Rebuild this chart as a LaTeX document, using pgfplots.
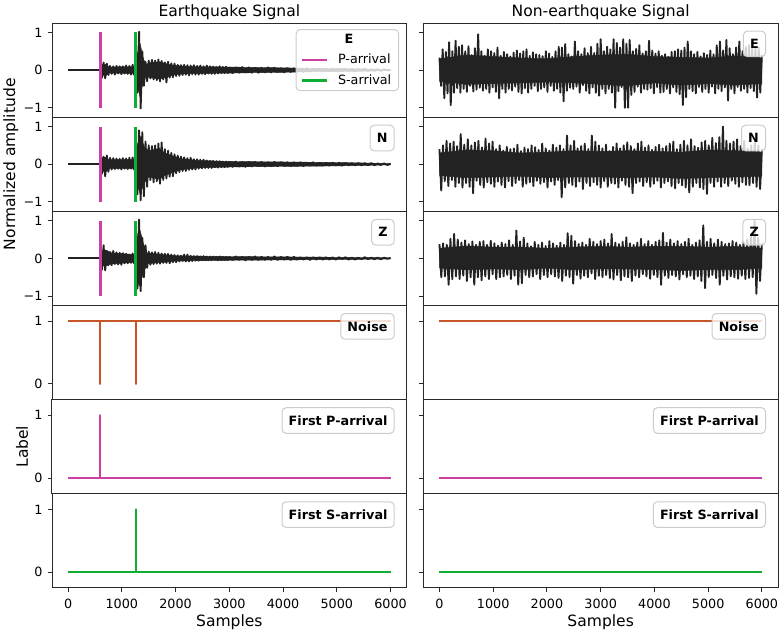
\documentclass[border=0pt]{standalone}
\usepackage{fontspec}
\setmainfont{DejaVu Sans}
\usepackage{pgfplots}
\usepackage{pgfplotstable}
\pgfplotsset{compat=1.18}
\definecolor{sigc}{HTML}{222222}
\definecolor{pc}{HTML}{CE3FA6}
\definecolor{sc}{HTML}{10AE33}
\definecolor{nc}{HTML}{C8552A}
\definecolor{axc}{HTML}{2A2A2A}
\newcommand{\tickf}{\fontsize{9.6}{11.5}\selectfont}
\newcommand{\labf}{\fontsize{11.7}{14}\selectfont}
\pgfplotsset{
  panel/.style={scale only axis,width=266bp,height=70.6bp,xmin=-300,xmax=6300,anchor=north west,
    axis line style={draw=axc,line width=.75bp},
    major tick style={draw=axc,line width=.7bp},major tick length=3.3bp,
    tick align=outside,xtick pos=bottom,ytick pos=left,
    xtick={0,1000,2000,3000,4000,5000,6000},xticklabels={},
    xtick style={draw=none},
    tick label style={font=\tickf},
    yticklabel style={inner xsep=3.6bp},
    xticklabel style={inner ysep=4.5bp},
    every axis title/.style={at={(axis description cs:.5,1)},anchor=center,yshift=8bp,font=\labf},
    every axis x label/.style={at={(axis description cs:.5,0)},anchor=center,yshift=-26bp,font=\labf},
  },
  wave/.style={panel,ymin=-1.25,ymax=1.25,ytick={-1,0,1},yticklabels={−1,0,1}},
  lab/.style={panel,ymin=-.25,ymax=1.25,ytick={0,1},yticklabels={0,1}},
  norow/.style={yticklabels={}},
  bottom/.style={xticklabels={0,1000,2000,3000,4000,5000,6000},xtick style={draw=axc,line width=.7bp},xlabel={Samples}},
  sigl/.style={sigc,line width=1.4bp,line join=round,no markers,forget plot},
  core/.style={fill=sigc,draw=sigc,line width=.3bp,no markers,forget plot},
  arr/.style={line width=2.1bp,no markers},
  tag/.style={line width=1.7bp,line join=round,no markers},
}
\tikzset{box/.style={anchor=north east,at={(rel axis cs:1,1)},xshift=-9bp,yshift=-5.7bp,rounded corners=3bp,
  draw=black!20,line width=.75bp,fill=white,fill opacity=.8,text opacity=1,
  font=\tickf\bfseries,minimum height=19.2bp,inner xsep=5bp,inner ysep=0pt}}
% Left column, from the P onset at 600: step 30 to 3000, then step 60
\pgfplotstableread[header=false]{
.05
-.2
.2
-.22
.17
-.13
.11
-.1
.1
-.12
.11
-.09
.1
-.11
.1
-.09
.12
-.1
.11
-.12
.14
-.13
.35
-.6
1.02
-1.02
.5
-.42
.22
-.3
.25
-.22
.27
-.25
.25
-.27
.28
-.3
.24
-.25
.2
-.33
.22
-.2
.18
-.19
.17
-.16
.14
-.15
.13
-.13
.14
-.12
.13
-.14
.12
-.11
.13
-.12
.11
-.12
.12
-.1
.1
-.11
.12
-.09
.1
-.1
.09
-.1
.08
-.09
.1
-.08
.08
-.08
.09
-.08
.08
}\leA
\pgfplotstableread[header=false]{
.08
-.08
.07
-.07
.08
-.06
.07
-.07
.06
-.07
.06
-.06
.07
-.06
.06
-.05
.05
-.06
.05
-.05
.05
-.04
.04
-.05
.05
-.04
.03
-.03
.04
-.03
.03
-.03
.04
-.03
.03
-.03
.03
-.02
.03
-.03
.02
-.02
.03
-.02
.02
-.02
.02
-.02
.02
-.01
.01
}\leB
\pgfplotstableread[header=false]{
.05
-.25
.2
-.32
.23
-.2
.17
-.14
.16
-.13
.15
-.12
.14
-.14
.16
-.12
.15
-.13
.17
-.12
.18
-.15
.45
-.8
.9
-.96
.85
-.85
.6
-.6
.5
-.42
.48
-.48
.5
-.45
.55
-.52
.58
-.42
.4
-.38
.36
-.33
.3
-.32
.26
-.24
.23
-.21
.2
-.18
.18
-.18
.16
-.15
.17
-.14
.13
-.14
.13
-.12
.12
-.11
.12
-.1
.1
-.1
.09
-.1
.09
-.08
.08
-.09
.08
-.08
.07
-.08
.07
-.07
.07
}\lnA
\pgfplotstableread[header=false]{
.07
-.07
.07
-.06
.06
-.07
.06
-.06
.06
-.05
.06
-.06
.05
-.05
.06
-.05
.05
-.05
.05
-.05
.05
-.04
.05
-.05
.04
-.04
.05
-.04
.04
-.04
.04
-.04
.04
-.03
.04
-.04
.03
-.03
.03
-.03
.03
-.03
.03
-.02
.03
-.03
.02
-.02
.02
-.02
.01
}\lnB
\pgfplotstableread[header=false]{
.05
-.3
.35
-.32
.2
-.18
.17
-.18
.2
-.15
.16
-.16
.15
-.17
.14
-.13
.12
-.13
.1
-.12
.13
-.14
.4
-.8
1.03
-.87
.55
-.5
.35
-.25
.18
-.17
.16
-.15
.17
-.14
.15
-.14
.13
-.12
.12
-.12
.12
-.13
.1
-.1
.09
-.1
.08
-.08
.07
-.07
.1
-.08
.1
-.08
.07
-.07
.06
-.06
.06
-.06
.05
-.05
.06
-.05
.05
-.05
.05
-.05
.05
-.04
.04
-.05
.05
-.04
.04
-.04
.04
-.04
.05
}\lzA
\pgfplotstableread[header=false]{
.04
-.04
.05
-.04
.04
-.05
.04
-.04
.05
-.04
.04
-.04
.04
-.04
.05
-.04
.04
-.03
.04
-.04
.04
-.03
.03
-.03
.03
-.04
.03
-.03
.03
-.03
.03
-.03
.03
-.03
.03
-.02
.03
-.03
.02
-.03
.02
-.02
.03
-.02
.02
-.02
.02
-.02
.02
-.01
.01
}\lzB
% Right column, evenly spaced over 0 to 6000
\pgfplotstableread[header=false]{
.33
-.42
.55
-.75
.48
-.62
.74
-.93
.5
-.6
.78
-.48
.62
-.6
.66
-.5
.5
-.58
.63
-.42
.4
-.57
.58
-.52
.95
-.47
.5
-.55
.38
-.5
.55
-.6
.5
-.46
.45
-.58
.6
-.75
.38
-.5
.48
-.6
.42
-.5
.36
-.54
.46
-.44
.52
-.58
.44
-.62
.5
-.48
.55
-.6
.38
-.5
.47
-.42
.42
-.56
.4
-.5
.37
-.46
.5
-.58
.44
-.42
.35
-.55
.5
-.5
.62
-.6
.6
-.83
.69
-.55
.42
-.47
.36
-.5
.76
-.44
.5
-.6
.42
-.4
.58
-.55
.45
-.62
.62
-.46
.45
-.6
.7
-.68
.82
-.5
.5
-.62
.62
-.5
.55
-.6
.82
-1.0
.72
-.56
.6
-.45
.82
-1.0
.7
-1.0
.8
-.66
.5
-.58
.56
-.44
.66
-.6
.44
-.5
.5
-.52
.78
-.48
.52
-.62
.44
-.45
.5
-.6
.38
-.58
.42
-.5
.35
-.62
.48
-.46
.5
-.58
.55
-.64
.52
-.93
.6
-.72
.76
-.5
.5
-.56
.42
-.62
.48
-.45
.36
-.58
.45
-.5
.4
-.6
.52
-.44
.42
-.62
.66
-.5
.76
-.56
.52
-.46
.8
-.81
.58
-.5
.42
-.62
.6
-.45
.76
-.55
.5
-.5
.62
-.6
.66
-.48
.58
-.56
.6
-.73
.6
-.6
.4
}\re
\pgfplotstableread[header=false]{
.4
-.7
.5
-.45
.62
-.58
.55
-.42
.6
-.6
.48
-.5
.8
-.62
.52
-.5
.66
-.6
.5
-.77
.58
-.44
.62
-.55
.45
-.62
.68
-.48
.55
-.52
.6
-.6
.4
-.46
.5
-.55
.36
-.62
.46
-.45
.4
-.58
.42
-.5
.52
-.42
.35
-.6
.44
-.52
.4
-.48
.5
-.58
.45
-.44
.38
-.52
.55
-.48
.42
-.62
.36
-.46
.52
-.55
.44
-.42
.5
-.88
.4
-.62
.76
-.5
.5
-.55
.62
-.6
.42
-.46
.48
-.66
.55
-.5
.4
-.58
.76
-.48
.6
-.55
.5
-.62
.42
-.45
.52
-.6
.35
-.5
.46
-.52
.55
-.62
.42
-.44
.5
-.55
.58
-.6
.48
-.77
.4
-.5
.55
-.46
.6
-.58
.44
-.48
.5
-.6
.38
-.52
.46
-.44
.52
-.62
.42
-.5
.48
-.46
.55
-.58
.6
-.64
.4
-.5
.52
-.56
.62
-.62
.5
-.75
.66
-.6
.48
-.5
.44
-.62
.58
-.66
.62
-.79
.5
-.5
.7
-.6
.56
-.46
.72
-.6
1.0
-.5
.62
-.58
.55
-.44
.6
-.52
.66
-.6
.48
-.48
.62
-.55
.42
-.56
.5
-.5
.58
-.6
.5
-.66
.4
}\rn
\pgfplotstableread[header=false]{
.38
-.5
.4
-.48
.36
-.7
.52
-.55
.65
-.48
.5
-.55
.42
-.46
.48
-.6
.38
-.5
.45
-.7
.36
-.5
.44
-.58
.46
-.48
.36
-.55
.47
-.42
.4
-.55
.34
-.5
.42
-.48
.38
-.44
.48
-.55
.36
-.46
.74
-.7
.45
-.66
.55
-.44
.4
-.5
.32
-.48
.44
-.42
.36
-.55
.42
-.44
.33
-.5
.46
-.42
.4
-.48
.34
-.52
.42
-.6
.36
-.46
.67
-.5
.6
-.67
.46
-.44
.38
-.54
.42
-.46
.36
-.5
.52
-.4
.44
-.55
.38
-.46
.46
-.5
.5
-.44
.4
-.52
.65
-.56
.42
-.44
.38
-.58
.44
-.48
.56
-.5
.4
-.6
.36
-.46
.42
-.5
.52
-.42
.38
-.48
.46
-.54
.36
-.44
.44
-.5
.48
-.7
.68
-.46
.42
-.52
.5
-.44
.4
-.48
.46
-.56
.38
-.42
.44
-.5
.52
-.46
.36
-.55
.42
-.48
.48
-.6
.88
-.79
.44
-.5
.52
-.44
.4
-.52
.5
-.7
.44
-.46
.38
-.56
.4
-.48
.46
-.5
.42
-.54
.36
-.46
.44
-.55
.5
-.52
.62
-.5
1.0
-.94
.55
-.6
.4
}\rz
\begin{document}
\begin{tikzpicture}
\path[use as bounding box] (0,0) rectangle (586.5bp,-474bp);
% ---------- left column
\begin{axis}[wave,at={(39bp,-17.25bp)},title={Earthquake Signal},
  legend style={at={(1,1)},anchor=north east,xshift=-5.7bp,yshift=-4.5bp,rounded corners=3bp,
    draw=black!20,line width=.75bp,fill=white,fill opacity=.8,text opacity=1,font=\tickf,
    inner xsep=3.5bp,inner ysep=1.5pt,row sep=2.5bp},
  legend cell align=left,
  legend image code/.code={\draw[#1] (0,0)--(18.75bp,0);}]
\addplot[sigl] coordinates {(0,0)(600,0)};
\addplot[core] coordinates {(600,0)(620,.15)(700,.15)(760,.08)(1240,.09)(1260,.3)(1340,.7)(1400,.3)(1450,.15)(1520,.2)(1700,.22)(1850,.16)(2000,.12)(2300,.09)(2700,.085)(3000,.08)(3500,.07)(4000,.06)(4500,.045)(5000,.04)(5500,.03)(6000,.015)(6000,-.015)(5500,-.03)(5000,-.04)(4500,-.045)(4000,-.06)(3500,-.07)(3000,-.08)(2700,-.085)(2300,-.09)(2000,-.12)(1850,-.18)(1700,-.24)(1520,-.2)(1450,-.16)(1400,-.3)(1340,-.7)(1260,-.3)(1240,-.09)(760,-.08)(700,-.15)(620,-.15)(600,0)} --cycle;
\addplot[sigl] table[x expr=600+\coordindex*30,y index=0]{\leA};
\addplot[sigl] table[x expr=3000+\coordindex*60,y index=0]{\leB};
\addlegendimage{empty legend}
\addlegendentry{\hspace{10bp}\textbf{E}}
\addplot[arr,pc] coordinates {(600,-1)(600,1)};
\addlegendentry{\hspace{5bp}P-arrival}
\addplot[arr,sc] coordinates {(1260,-1)(1260,1)};
\addlegendentry{\hspace{5bp}S-arrival}
\end{axis}
\begin{axis}[wave,at={(39bp,-87.85bp)},ylabel={Normalized amplitude},
  every axis y label/.style={at={(axis description cs:-0.116,0.5)},rotate=90,anchor=center,font=\labf}]
\addplot[sigl] coordinates {(0,0)(600,0)};
\addplot[core] coordinates {(600,0)(620,.18)(700,.18)(760,.12)(1240,.12)(1260,.4)(1340,.75)(1420,.45)(1500,.36)(1700,.42)(1800,.3)(1950,.22)(2100,.15)(2400,.1)(2800,.08)(3200,.07)(4000,.06)(5000,.045)(5600,.03)(6000,.015)(6000,-.015)(5600,-.03)(5000,-.045)(4000,-.06)(3200,-.07)(2800,-.08)(2400,-.1)(2100,-.15)(1950,-.22)(1800,-.3)(1700,-.4)(1500,-.34)(1420,-.5)(1340,-.8)(1260,-.4)(1240,-.12)(760,-.12)(700,-.2)(620,-.2)(600,0)} --cycle;
\addplot[sigl] table[x expr=600+\coordindex*30,y index=0]{\lnA};
\addplot[sigl] table[x expr=3000+\coordindex*60,y index=0]{\lnB};
\addplot[arr,pc,forget plot] coordinates {(600,-1)(600,1)};
\addplot[arr,sc,forget plot] coordinates {(1260,-1)(1260,1)};
\node[box]{N};
\end{axis}
\begin{axis}[wave,at={(39bp,-158.5bp)}]
\addplot[sigl] coordinates {(0,0)(600,0)};
\addplot[core] coordinates {(600,0)(620,.2)(700,.22)(800,.15)(1240,.1)(1260,.35)(1320,.85)(1400,.4)(1470,.14)(1800,.1)(2000,.07)(2400,.06)(3000,.05)(4000,.04)(5000,.03)(6000,.015)(6000,-.015)(5000,-.03)(4000,-.04)(3000,-.05)(2400,-.06)(2000,-.07)(1800,-.1)(1470,-.14)(1400,-.4)(1320,-.75)(1260,-.35)(1240,-.1)(800,-.15)(700,-.2)(620,-.2)(600,0)} --cycle;
\addplot[sigl] table[x expr=600+\coordindex*30,y index=0]{\lzA};
\addplot[sigl] table[x expr=3000+\coordindex*60,y index=0]{\lzB};
\addplot[arr,pc,forget plot] coordinates {(600,-1)(600,1)};
\addplot[arr,sc,forget plot] coordinates {(1260,-1)(1260,1)};
\node[box]{Z};
\end{axis}
\begin{axis}[lab,at={(39bp,-229.1bp)}]
\addplot[tag,nc,forget plot] coordinates {(0,1)(600,1)(600,0)(600,1)(1260,1)(1260,0)(1260,1)(6000,1)};
\node[box]{Noise};
\end{axis}
\begin{axis}[lab,at={(39bp,-299.7bp)},ylabel={Label},
  every axis y label/.style={at={(axis description cs:-0.0847,0.5)},rotate=90,anchor=center,font=\labf}]
\addplot[tag,pc,forget plot] coordinates {(0,0)(600,0)(600,1)(600,0)(6000,0)};
\node[box]{First P-arrival};
\end{axis}
\begin{axis}[lab,bottom,at={(39bp,-370.3bp)}]
\addplot[tag,sc,forget plot] coordinates {(0,0)(1260,0)(1260,1)(1260,0)(6000,0)};
\node[box]{First S-arrival};
\end{axis}
% ---------- right column
\begin{axis}[wave,norow,at={(317.5bp,-17.25bp)},title={Non-earthquake Signal}]
\addplot[core] coordinates {(0,.3)(500,.4)(1000,.36)(1500,.32)(2000,.3)(2500,.36)(3000,.4)(3500,.42)(4000,.36)(4500,.34)(5000,.32)(5500,.38)(6000,.32)(6000,-.36)(5500,-.4)(5000,-.36)(4500,-.4)(4000,-.34)(3500,-.42)(3000,-.38)(2500,-.34)(2000,-.32)(1500,-.34)(1000,-.36)(500,-.38)(0,-.3)} --cycle;
\addplot[sigl] table[x expr=\coordindex*30,y index=0]{\re};
\node[box]{E};
\end{axis}
\begin{axis}[wave,norow,at={(317.5bp,-87.85bp)}]
\addplot[core] coordinates {(0,.3)(500,.38)(1000,.36)(1500,.3)(2000,.32)(2500,.36)(3000,.34)(3500,.36)(4000,.34)(4500,.32)(5000,.38)(5500,.36)(6000,.32)(6000,-.32)(5500,-.34)(5000,-.36)(4500,-.38)(4000,-.34)(3500,-.36)(3000,-.34)(2500,-.34)(2000,-.36)(1500,-.32)(1000,-.34)(500,-.36)(0,-.3)} --cycle;
\addplot[sigl] table[x expr=\coordindex*32.967,y index=0]{\rn};
\node[box]{N};
\end{axis}
\begin{axis}[wave,norow,at={(317.5bp,-158.5bp)}]
\addplot[core] coordinates {(0,.27)(500,.33)(1000,.3)(1500,.3)(2000,.27)(2500,.3)(3000,.32)(3500,.3)(4000,.32)(4500,.32)(5000,.3)(5500,.32)(6000,.27)(6000,-.26)(5500,-.3)(5000,-.3)(4500,-.32)(4000,-.3)(3500,-.28)(3000,-.28)(2500,-.3)(2000,-.26)(1500,-.3)(1000,-.28)(500,-.3)(0,-.26)} --cycle;
\addplot[sigl] table[x expr=\coordindex*34.09,y index=0]{\rz};
\node[box]{Z};
\end{axis}
\begin{axis}[lab,norow,at={(317.5bp,-229.1bp)}]
\addplot[tag,nc,forget plot] coordinates {(0,1)(6000,1)};
\node[box]{Noise};
\end{axis}
\begin{axis}[lab,norow,at={(317.5bp,-299.7bp)}]
\addplot[tag,pc,forget plot] coordinates {(0,0)(6000,0)};
\node[box]{First P-arrival};
\end{axis}
\begin{axis}[lab,norow,bottom,at={(317.5bp,-370.3bp)}]
\addplot[tag,sc,forget plot] coordinates {(0,0)(6000,0)};
\node[box]{First S-arrival};
\end{axis}
\end{tikzpicture}
\end{document}
